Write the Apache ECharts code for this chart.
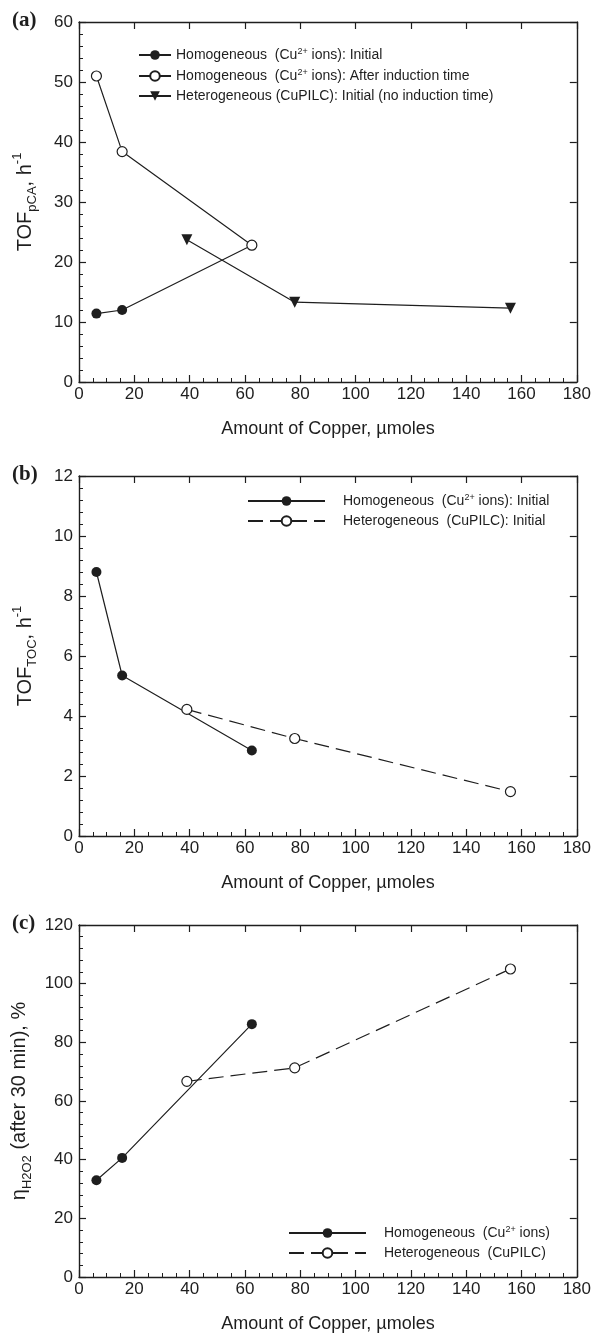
<!DOCTYPE html>
<html><head><meta charset="utf-8">
<script src="https://cdn.jsdelivr.net/npm/echarts@6/dist/echarts.min.js"></script>
<style>html,body{margin:0;padding:0;background:#fff}#c{width:594px;height:1334px}</style>
</head><body><div id="c"></div>
<script>
// ---- data ----
const homCu = [6.3, 15.6, 62.5];          // µmoles, homogeneous (Cu2+ ions)
const hetCu = [39, 78, 156];              // µmoles, heterogeneous (CuPILC)
const aHomInitial = [11.4, 12.0, 22.8];   // TOF_pCA
const aHomAfter = [51.0, 38.4, 22.8];
const aHetInitial = [23.7, 13.3, 12.3];
const bHom = [8.8, 5.35, 2.85];           // TOF_TOC
const bHet = [4.22, 3.25, 1.48];
const cHom = [33.0, 40.6, 86.2];          // eta_H2O2
const cHet = [66.7, 71.3, 105.0];
const xRange = [0, 180, 20];
const yRanges = [[0, 60, 10], [0, 12, 2], [0, 120, 20]];
const xTitle = 'Amount of Copper, µmoles';
const yTitles = ['{t|TOF}{b|pCA}{t|, h}{p|-1}', '{t|TOF}{b|TOC}{t|, h}{p|-1}', '{t|η}{b|H2O2}{t| (after 30 min), %}'];
const legendText = {
  a1: '{t|Homogeneous  (Cu}{s|2+}{t| ions): Initial}',
  a2: '{t|Homogeneous  (Cu}{s|2+}{t| ions): After induction time}',
  a3: '{t|Heterogeneous (CuPILC): Initial (no induction time)}',
  b1: '{t|Homogeneous  (Cu}{s|2+}{t| ions): Initial}',
  b2: '{t|Heterogeneous  (CuPILC): Initial}',
  c1: '{t|Homogeneous  (Cu}{s|2+}{t| ions)}',
  c2: '{t|Heterogeneous  (CuPILC)}'
};
const panelLabels = ['(a)', '(b)', '(c)'];

// ---- layout ----
const FONT = '"Liberation Sans", Arial, Helvetica, sans-serif';
const INK = '#1e1e1e';
const grids = [
  {left: 79, top: 22, width: 499, height: 360},
  {left: 79, top: 476, width: 499, height: 360},
  {left: 79, top: 925, width: 499, height: 356}
];
const zip = (xs, ys) => xs.map((x, i) => [x, ys[i]]);

const xAxes = [], yAxes = [];
grids.forEach((g, i) => {
  const yr = yRanges[i];
  const line = {show: true, onZero: false, lineStyle: {color: INK, width: 1.4}};
  xAxes.push({
    type: 'value', gridIndex: i, position: 'bottom', min: xRange[0], max: xRange[1], interval: xRange[2],
    axisLine: line, axisTick: {inside: true, length: 7, lineStyle: {color: INK, width: 1.2}},
    minorTick: {show: true, splitNumber: 4, length: 4, lineStyle: {color: INK, width: 1}},
    axisLabel: {fontSize: 17, color: INK, fontFamily: FONT, margin: 4},
    splitLine: {show: false},
    name: xTitle, nameLocation: 'middle', nameGap: 38,
    nameTextStyle: {fontSize: 18, color: INK, fontFamily: FONT}
  });
  xAxes.push({
    type: 'value', gridIndex: i, position: 'top', min: xRange[0], max: xRange[1], interval: xRange[2],
    axisLine: line, axisTick: {inside: true, length: 7, lineStyle: {color: INK, width: 1.2}},
    axisLabel: {show: false}, splitLine: {show: false}
  });
  yAxes.push({
    type: 'value', gridIndex: i, position: 'left', min: yr[0], max: yr[1], interval: yr[2],
    axisLine: line, axisTick: {inside: true, length: 7, lineStyle: {color: INK, width: 1.2}},
    minorTick: {show: true, splitNumber: 5, length: 4, lineStyle: {color: INK, width: 1}},
    axisLabel: {fontSize: 17, color: INK, fontFamily: FONT, margin: 6},
    splitLine: {show: false},
    name: yTitles[i], nameLocation: 'middle', nameRotate: 90, nameGap: 40,
    nameTextStyle: {
      color: INK, fontFamily: FONT,
      rich: {
        t: {fontSize: 20, lineHeight: 28, color: INK, fontFamily: FONT},
        b: {fontSize: 13, lineHeight: 14, verticalAlign: 'bottom', color: INK, fontFamily: FONT},
        p: {fontSize: 13, lineHeight: 14, verticalAlign: 'top', color: INK, fontFamily: FONT}
      }
    }
  });
  yAxes.push({
    type: 'value', gridIndex: i, position: 'right', min: yr[0], max: yr[1], interval: yr[2],
    axisLine: line, axisTick: {inside: true, length: 7, lineStyle: {color: INK, width: 1.2}},
    axisLabel: {show: false}, splitLine: {show: false}
  });
});

const lineBase = {color: INK, width: 1.2};
const filled = {color: INK};
const open = {color: '#fff', borderColor: INK, borderWidth: 1.2};
function ser(name, grid, data, symbol, itemStyle, dashed, extra) {
  return Object.assign({
    name, type: 'line', xAxisIndex: grid * 2, yAxisIndex: grid * 2, data,
    symbol, symbolSize: 10, showAllSymbol: true,
    itemStyle, lineStyle: Object.assign({}, lineBase, dashed ? {type: [15, 7]} : {}),
    emphasis: {disabled: true}, silent: true
  }, extra || {});
}
const series = [
  ser('a1', 0, zip(homCu, aHomInitial), 'circle', filled),
  ser('a3', 0, zip(hetCu, aHetInitial), 'triangle', filled, false, {symbolRotate: 180, symbolSize: 11}),
  ser('a2', 0, zip(homCu, aHomAfter), 'circle', open),
  ser('b1', 1, zip(homCu, bHom), 'circle', filled),
  ser('b2', 1, zip(hetCu, bHet), 'circle', open, true),
  ser('c1', 2, zip(homCu, cHom), 'circle', filled),
  ser('c2', 2, zip(hetCu, cHet), 'circle', open, true)
];

const legendRich = {
  t: {fontSize: 14, lineHeight: 16, color: INK, fontFamily: FONT},
  s: {fontSize: 9, lineHeight: 9, verticalAlign: 'top', color: INK, fontFamily: FONT}
};
function legend(names, left, top, w, pad) {
  return {
    data: names, left, top, orient: 'vertical', itemWidth: w, itemHeight: 12, itemGap: 6,
    padding: 0, selectedMode: false,
    formatter: n => legendText[n],
    textStyle: {rich: legendRich, padding: [0, 0, 0, pad]}
  };
}

const chart = echarts.init(document.getElementById('c'), null, {renderer: 'canvas'});
chart.setOption({
  animation: false,
  backgroundColor: '#fff',
  grid: grids,
  xAxis: xAxes,
  yAxis: yAxes,
  legend: [
    legend(['a1', 'a2', 'a3'], 138, 47, 32, 0),
    legend(['b1', 'b2'], 247, 493, 77, 13),
    legend(['c1', 'c2'], 288, 1225, 77, 13)
  ],
  graphic: panelLabels.map((t, i) => ({
    type: 'text', left: 12, top: grids[i].top - 12,
    style: {text: t, font: 'bold 21px "Liberation Serif", "Times New Roman", serif', fill: INK}
  })),
  series
});
</script></body></html>
